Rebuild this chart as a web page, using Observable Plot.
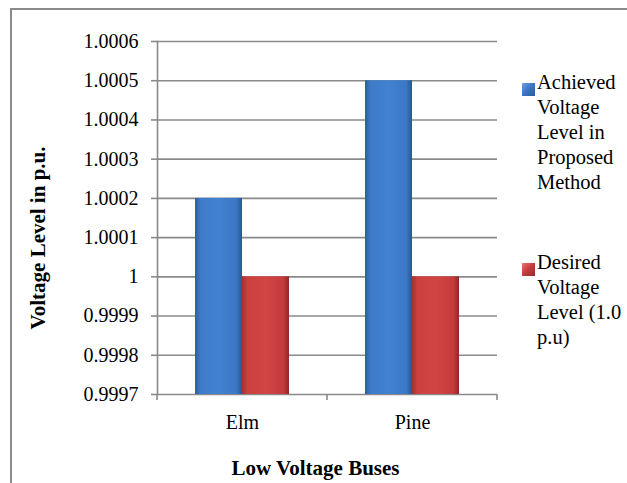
<!DOCTYPE html>
<html>
<head>
<meta charset="utf-8">
<script src="https://cdn.jsdelivr.net/npm/d3@7"></script>
<script src="https://cdn.jsdelivr.net/npm/@observablehq/plot@0.6"></script>
<style>
  body { margin: 0; background: #fff; }
  #wrap { position: relative; width: 627px; height: 483px; overflow: hidden; background: #fff; font-family: "Liberation Serif", "Times New Roman", serif; }
  #border { position: absolute; left: 10px; top: 8px; width: 700px; height: 600px; border: 2px solid #8a8a8a; box-sizing: border-box; }
  #chart { position: absolute; left: 0; top: 0; }
  #legend { position: absolute; left: 522px; top: 70px; font-size: 20.5px; line-height: 25px; color: #000; }
  .item { display: flex; align-items: flex-start; position: absolute; left: 0; width: 110px; }
  .swatch { width: 13px; height: 13px; margin-top: 13px; margin-right: 2px; flex: none; }
  .txt { width: 90px; }
</style>
</head>
<body>
<div id="wrap">
  <div id="border"></div>
  <div id="chart"></div>
  <div id="legend"></div>
</div>
<script>
const categories = ["Elm", "Pine"];
const seriesNames = ["Achieved Voltage Level in Proposed Method", "Desired Voltage Level (1.0 p.u)"];
const achieved = [1.0002, 1.0005];
const desired = [1.0, 1.0];
const yTicks = [0.9997, 0.9998, 0.9999, 1.0, 1.0001, 1.0002, 1.0003, 1.0004, 1.0005, 1.0006];
const yTickLabels = ["0.9997", "0.9998", "0.9999", "1", "1.0001", "1.0002", "1.0003", "1.0004", "1.0005", "1.0006"];
const xTitle = "Low Voltage Buses";
const yTitle = "Voltage Level in p.u.";

const fills = ["url(#gBlue)", "url(#gRed)"];
const swatches = [
  "linear-gradient(135deg, #6f9fe0 0%, #3c78c6 45%, #2a5a9c 100%)",
  "linear-gradient(135deg, #e27a7a 0%, #cc3d3d 45%, #962a2a 100%)"
];

const data = [];
categories.forEach((c, i) => {
  data.push({category: c, series: seriesNames[0], value: achieved[i]});
  data.push({category: c, series: seriesNames[1], value: desired[i]});
});

const yMin = yTicks[0], yMax = yTicks[yTicks.length - 1];

const plot = Plot.plot({
  width: 627,
  height: 483,
  marginLeft: 156,
  marginRight: 130,
  marginTop: 41,
  marginBottom: 89,
  style: {fontFamily: "'Liberation Serif', 'Times New Roman', serif", fontSize: "20px", color: "#000", background: "transparent", overflow: "visible"},
  fx: {domain: categories, padding: 0},
  x: {domain: seriesNames, paddingInner: 0, paddingOuter: 0.776, axis: null},
  y: {domain: [yMin, yMax]},
  color: {type: "ordinal", domain: seriesNames, range: fills},
  marks: [
    Plot.ruleY(yTicks, {stroke: "#8a8a8a", strokeWidth: 1.6}),
    Plot.barY(data, {fx: "category", x: "series", y1: yMin, y2: "value", fill: "series"}),
    Plot.frame({anchor: "left", facetAnchor: "left", stroke: "#8a8a8a", strokeWidth: 1.6}),
    Plot.axisY({ticks: yTicks, tickFormat: (d, i) => yTickLabels[i], tickSize: 6, tickPadding: 13, stroke: "#8a8a8a", strokeWidth: 1.6,
      label: yTitle, labelArrow: "none", labelAnchor: "center", labelOffset: 127}),
    Plot.axisFx({anchor: "bottom", tickSize: 0, tickPadding: 20, label: xTitle, labelArrow: "none", labelAnchor: "center", labelOffset: 80})
  ]
});

document.getElementById("chart").appendChild(plot);

// gradients for bevel-like bars
const svg = d3.select(plot);
const defs = svg.insert("defs", ":first-child");
function grad(id, stops) {
  const g = defs.append("linearGradient").attr("id", id).attr("x1", "0").attr("x2", "1").attr("y1", "0").attr("y2", "0");
  stops.forEach(([o, c]) => g.append("stop").attr("offset", o).attr("stop-color", c));
}
grad("gBlue", [["0", "#2d5e9f"], ["0.12", "#3f7bc9"], ["0.5", "#4282d2"], ["0.88", "#3b77c4"], ["1", "#2a5592"]]);
grad("gRed", [["0", "#a63030"], ["0.12", "#cd4040"], ["0.5", "#d24545"], ["0.88", "#c43b3b"], ["1", "#932626"]]);

// bold axis titles
const yLab = svg.selectAll('g[aria-label="y-axis label"] text');
yLab.text(yTitle).style("font-weight", "bold").style("font-size", "21px");
yLab.attr("dx", "-20");
svg.selectAll('g[aria-label="fx-axis label"] text').text(xTitle)
  .attr("dx", "-12")
  .style("font-weight", "bold").style("font-size", "21px");

// category boundary ticks on the bottom axis, from the fx scale
const fx = plot.scale("fx");
const yS = plot.scale("y");
const yb = yS.apply(yMin);
const bounds = categories.map(c => fx.apply(c)).concat([fx.apply(categories[categories.length - 1]) + fx.bandwidth]);
svg.append("g").selectAll("line").data(bounds).join("line")
  .attr("x1", d => d).attr("x2", d => d).attr("y1", yb).attr("y2", yb + 6)
  .attr("stroke", "#8a8a8a").attr("stroke-width", 1.6);

// legend
const legend = document.getElementById("legend");
const tops = [0, 180];
seriesNames.forEach((s, i) => {
  const item = document.createElement("div");
  item.className = "item";
  item.style.top = tops[i] + "px";
  const sw = document.createElement("div");
  sw.className = "swatch";
  sw.style.background = swatches[i];
  const t = document.createElement("div");
  t.className = "txt";
  t.textContent = s;
  item.appendChild(sw); item.appendChild(t);
  legend.appendChild(item);
});
</script>
</body>
</html>
